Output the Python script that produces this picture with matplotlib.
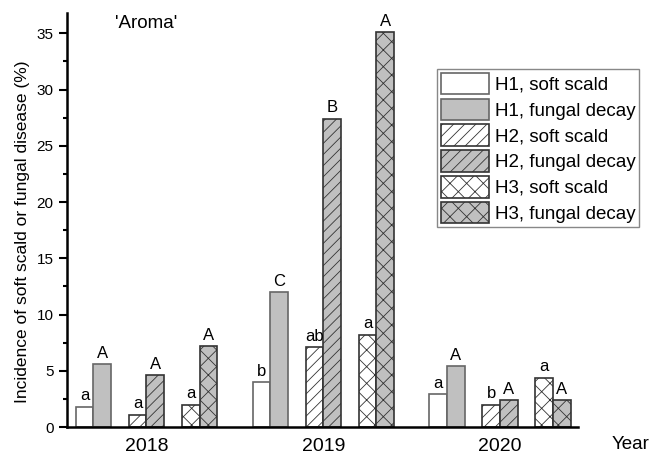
import numpy as np
import matplotlib
matplotlib.use("Agg")
import matplotlib.pyplot as plt
from matplotlib.ticker import MultipleLocator

plt.rcParams['font.family'] = ['Liberation Sans', 'DejaVu Sans']
plt.rcParams['hatch.linewidth'] = 0.6

years = ["2018", "2019", "2020"]
series = ["H1, soft scald", "H1, fungal decay",
          "H2, soft scald", "H2, fungal decay",
          "H3, soft scald", "H3, fungal decay"]

h1_soft = [1.8, 4.0, 2.9]
h1_fungal = [5.6, 12.0, 5.4]
h2_soft = [1.1, 7.1, 2.0]
h2_fungal = [4.6, 27.4, 2.4]
h3_soft = [2.0, 8.2, 4.4]
h3_fungal = [7.2, 35.1, 2.4]

h1_soft_lbl = ["a", "b", "a"]
h1_fungal_lbl = ["A", "C", "A"]
h2_soft_lbl = ["a", "ab", "b"]
h2_fungal_lbl = ["A", "B", "A"]
h3_soft_lbl = ["a", "a", "a"]
h3_fungal_lbl = ["A", "A", "A"]

values = [h1_soft, h1_fungal, h2_soft, h2_fungal, h3_soft, h3_fungal]
letters = [h1_soft_lbl, h1_fungal_lbl, h2_soft_lbl, h2_fungal_lbl, h3_soft_lbl, h3_fungal_lbl]

# style per series: facecolor, edgecolor, hatch
gray = "#c0c0c0"
styles = [
    ("white", "#666666", None),
    (gray, "#666666", None),
    ("white", "#333333", "///"),
    (gray, "#333333", "///"),
    ("white", "#333333", "xx"),
    (gray, "#333333", "xx"),
]
offsets = [-3.5, -2.5, -0.5, 0.5, 2.5, 3.5]

fig = plt.figure(figsize=(6.56, 4.51), dpi=100)
ax = fig.add_axes([0.102, 0.053, 0.779, 0.918])

group_x = np.arange(len(years)) * 10.0
handles = []
for vals, lbls, (fc, ec, hatch), off, name in zip(values, letters, styles, offsets, series):
    bars = ax.bar(group_x + off, vals, width=1.0, facecolor=fc, edgecolor=ec,
                  hatch=hatch, linewidth=1.2, label=name, zorder=2)
    handles.append(bars)
    for b, t in zip(bars, lbls):
        ax.text(b.get_x() + b.get_width() / 2, b.get_height() + 0.3, t,
                ha="center", va="bottom", fontsize=12)

ax.set_xlim(-4.5, 24.4)
ax.set_ylim(0, 36.8)
ax.set_xticks(group_x)
ax.set_xticklabels(years, fontsize=14)
ax.tick_params(axis="x", length=0, pad=8)
ax.yaxis.set_major_locator(MultipleLocator(5))
ax.yaxis.set_minor_locator(MultipleLocator(2.5))
ax.tick_params(axis="y", which="major", length=6, width=1.5, labelsize=11)
ax.tick_params(axis="y", which="minor", length=3, width=1.5)
for s in ["top", "right"]:
    ax.spines[s].set_visible(False)
ax.spines["left"].set_linewidth(1.8)
ax.spines["bottom"].set_linewidth(1.8)

ax.set_ylabel("Incidence of soft scald or fungal disease (%)", fontsize=12.5)
ax.yaxis.set_label_coords(-0.072, 0.471)
fig.text(0.932, 0.004, "Year", fontsize=13.5, ha="left", va="baseline")
ax.text(0.094, 0.976, "'Aroma'", transform=ax.transAxes, fontsize=13.5, va="center")

leg = ax.legend(handles=handles, loc="upper left", bbox_to_anchor=(0.725, 0.865),
                fontsize=13.5, handlelength=2.55, handleheight=1.4, handletextpad=0.3,
                labelspacing=0.22, borderpad=0.2, borderaxespad=0, fancybox=False,
                framealpha=1, edgecolor="#888888")
leg.get_frame().set_linewidth(1.0)

fig.savefig("out.png", dpi=100)
